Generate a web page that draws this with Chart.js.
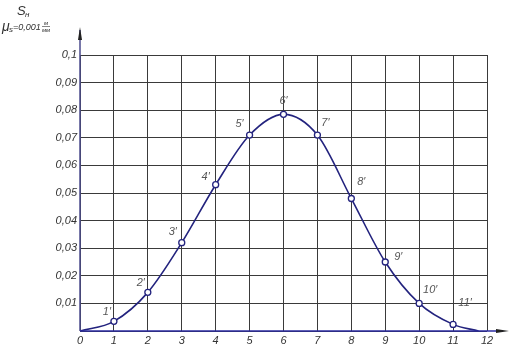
<!DOCTYPE html>
<html lang="ru">
<head>
    <meta charset="UTF-8">
    <title>S_H curve</title>
    <script src="https://cdn.jsdelivr.net/npm/chart.js"></script>
    <style>
        html, body { margin: 0; padding: 0; background: #fff; }
        #wrap { width: 511px; height: 351px; }
    </style>
</head>
<body>
<div id="wrap"><canvas id="myChart"></canvas></div>
<script>
    // curve through the numbered points (first and last are the ends on the axis)
    const xValues = [0, 1, 2, 3, 4, 5, 6, 7, 8, 9, 10, 11, 11.75];
    const sValues = [0, 0.0035, 0.014, 0.032, 0.053, 0.071, 0.0785, 0.071, 0.048, 0.025, 0.010, 0.0024, 0];
    const pointNames = ['', "1′", "2′", "3′", "4′", "5′", "6′", "7′", "8′", "9′", "10′", "11′", ''];
    const xTicks = ['0', '1', '2', '3', '4', '5', '6', '7', '8', '9', '10', '11', '12'];
    const yTicks = ['0', '0,01', '0,02', '0,03', '0,04', '0,05', '0,06', '0,07', '0,08', '0,09', '0,1'];

    const navy = '#23237e';
    const fam = '"Liberation Sans", "DejaVu Sans", sans-serif';
    const tickFont = { family: fam, size: 11, style: 'italic' };

    // labels next to the points, offsets in px
    const nameOffsets = [[0,0],[-7,-9],[-7,-9],[-9,-11],[-10,-8],[-10,-11],[0,-13],[8,-12],[10,-17],[13,-5],[11,-13],[12,-21],[0,0]];

    const decor = {
        id: 'decor',
        afterDraw(chart) {
            const ctx = chart.ctx;
            const a = chart.chartArea;
            ctx.save();
            // axes with arrows
            ctx.strokeStyle = '#4b4b8c';
            ctx.fillStyle = '#222';
            ctx.lineWidth = 1.5;
            ctx.beginPath();
            ctx.moveTo(a.left, a.bottom);
            ctx.lineTo(a.left, 30);
            ctx.stroke();
            ctx.beginPath();
            ctx.moveTo(a.left, 27); ctx.lineTo(a.left - 2, 40); ctx.lineTo(a.left + 2, 40); ctx.closePath();
            ctx.fill();
            ctx.strokeStyle = '#2a2aa0';
            ctx.beginPath();
            ctx.moveTo(a.left, a.bottom);
            ctx.lineTo(503, a.bottom);
            ctx.stroke();
            ctx.beginPath();
            ctx.moveTo(509, a.bottom); ctx.lineTo(496, a.bottom - 2); ctx.lineTo(496, a.bottom + 2); ctx.closePath();
            ctx.fill();

            // point names
            const meta = chart.getDatasetMeta(0);
            ctx.fillStyle = '#555';
            ctx.font = 'italic 11px ' + fam;
            ctx.textAlign = 'center';
            ctx.textBaseline = 'middle';
            meta.data.forEach((pt, i) => {
                if (!pointNames[i]) return;
                ctx.fillText(pointNames[i], pt.x + nameOffsets[i][0], pt.y + nameOffsets[i][1]);
            });

            // axis caption
            ctx.fillStyle = '#333';
            ctx.textAlign = 'left';
            ctx.textBaseline = 'alphabetic';
            ctx.font = 'italic 13px ' + fam;
            ctx.fillText('S', 17, 15);
            ctx.font = 'italic 8px ' + fam;
            ctx.fillText('н', 25, 17);
            ctx.font = 'italic 14px ' + fam;
            ctx.fillText('μ', 2, 31);
            ctx.font = 'italic 8px ' + fam;
            ctx.fillText('s', 9, 32);
            ctx.font = 'italic 9px ' + fam;
            ctx.fillText('=0,001', 13, 30);
            ctx.font = 'italic 6px ' + fam;
            ctx.fillText('м', 44, 25);
            ctx.fillText('мм', 42, 31.5);
            ctx.lineWidth = 0.6;
            ctx.strokeStyle = '#333';
            ctx.beginPath();
            ctx.moveTo(42, 26.5); ctx.lineTo(50, 26.5);
            ctx.stroke();
            ctx.restore();
        }
    };

    const ctx = document.getElementById('myChart').getContext('2d');
    const myChart = new Chart(ctx, {
        type: 'line',
        data: {
            datasets: [{
                data: xValues.map((x, i) => ({ x: x, y: sValues[i] })),
                borderColor: navy,
                borderWidth: 1.6,
                cubicInterpolationMode: 'monotone',
                pointRadius: pointNames.map(n => n ? 3 : 0),
                pointBackgroundColor: '#fff',
                pointBorderColor: navy,
                pointBorderWidth: 1.3,
                fill: false
            }]
        },
        plugins: [decor],
        options: {
            responsive: true,
            maintainAspectRatio: false,
            animation: false,
            layout: { padding: { left: 0, top: 55, right: 24, bottom: 0 } },
            plugins: { legend: { display: false }, tooltip: { enabled: false } },
            scales: {
                x: {
                    type: 'linear',
                    min: 0,
                    max: 12,
                    afterFit(s) { s.height = 20; },
                    ticks: {
                        stepSize: 1,
                        autoSkip: false,
                        color: '#333',
                        font: tickFont,
                        padding: 3,
                        maxRotation: 0,
                        callback: (v) => xTicks[v]
                    },
                    grid: { color: '#3a3a3a', lineWidth: 1, drawTicks: false },
                    border: { display: false }
                },
                y: {
                    min: 0,
                    max: 0.1,
                    afterFit(s) { s.width = 80; },
                    ticks: {
                        stepSize: 0.01,
                        autoSkip: false,
                        color: '#333',
                        font: tickFont,
                        padding: 3,
                        callback: (v) => {
                            const i = Math.round(v * 100);
                            return i === 0 ? '' : yTicks[i];
                        }
                    },
                    grid: { color: '#3a3a3a', lineWidth: 1, drawTicks: false },
                    border: { display: false }
                }
            }
        }
    });
</script>
</body>
</html>
